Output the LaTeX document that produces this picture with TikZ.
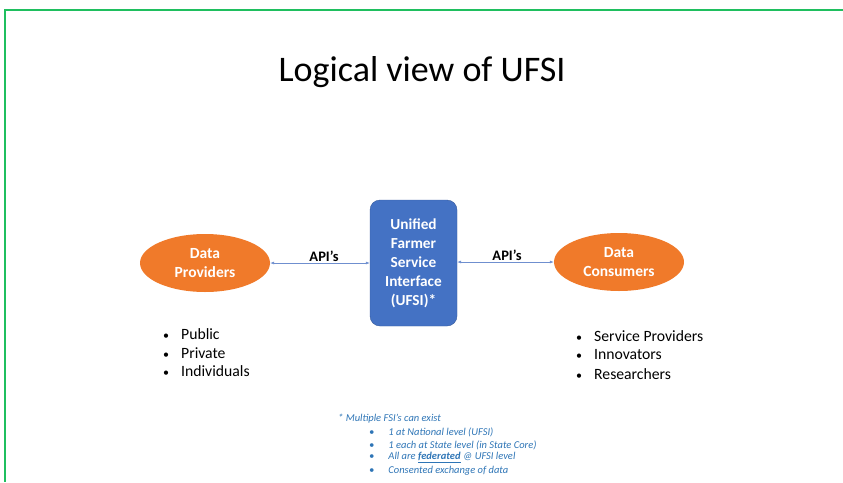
\documentclass[tikz,border=0pt]{standalone}
\usepackage{fontspec}
\setmainfont{Carlito}
\usetikzlibrary{shapes.geometric,arrows.meta}
\definecolor{slidegreen}{HTML}{1FBF5F}
\definecolor{ufsiblue}{HTML}{4472C4}
\definecolor{dataorange}{HTML}{F07A2A}
\definecolor{notesblue}{HTML}{2E75B6}
\definecolor{apiline}{HTML}{6F8FCF}
\tikzset{party/.style={ellipse,fill=dataorange,draw=none,minimum width=130pt,minimum height=58pt,inner sep=0pt,
  text=white,font=\fontsize{15.5}{19}\selectfont\bfseries,align=center}}
\tikzset{ufsi/.style={rectangle,rounded corners=10pt,fill=ufsiblue,draw=ufsiblue!80!black,minimum width=87pt,minimum height=126pt,
  text=white,font=\fontsize{15.3}{19}\selectfont\bfseries,align=center}}
\tikzset{api/.style={draw=apiline,line width=0.6pt,{Latex[length=4pt,width=3pt]}-{Latex[length=4pt,width=3pt]}}}
\tikzset{apilbl/.style={font=\fontsize{14.5}{16}\selectfont\bfseries}}
\tikzset{item/.style={anchor=west,font=\fontsize{15.7}{18}\selectfont,inner sep=0pt}}
\tikzset{note/.style={anchor=west,font=\fontsize{10.5}{12}\selectfont\itshape,text=notesblue,inner sep=0pt}}
\newcommand{\dotitem}{{\fontsize{12}{14}\selectfont•}}

\begin{document}
\begin{tikzpicture}[x=1pt,y=-1pt]
\useasboundingbox (0,0) rectangle (843,482);
\draw[slidegreen,line width=1.5pt] (843,10)--(5,10)--(5,482);
\node (title) at (422,72) {\fontsize{36}{40}\selectfont Logical view of UFSI};
\node (prov) at (205,263) [party] {Data\\Providers};
\node (core) at (413.5,263) [ufsi] {Unified\\Farmer\\Service\\Interface\\(UFSI)*};
\node (cons) at (619,262) [party] {Data\\Consumers};
\draw[api] (prov.east) -- (prov.east -| core.west);
\draw[api] (core.east |- cons.west) -- (cons.west);
\node (apil) at (324,256) [apilbl] {API’s};
\node (apir) at (507,255) [apilbl] {API’s};
% who provides / who consumes
\foreach \t [count=\i] in {Public,Private,Individuals}
  \node (p\i) at (163,316+18.5*\i) [item] {\dotitem\hspace{12pt}\t};
\foreach \t [count=\i] in {Service Providers,Innovators,Researchers}
  \node (c\i) at (576,317+19*\i) [item] {\dotitem\hspace{12pt}\t};
% footnote
\node (fn) at (338,419) [note] {* Multiple FSI’s can exist};
\foreach \t [count=\i] in {1 at National level (UFSI),1 each at State level (in State Core),
  All are \textbf{\underline{federated}} @ UFSI level,Consented exchange of data}
  \node (n\i) at (369,419.5+12.7*\i) [note] {•\hspace{14pt}\t};
\end{tikzpicture}
\end{document}
